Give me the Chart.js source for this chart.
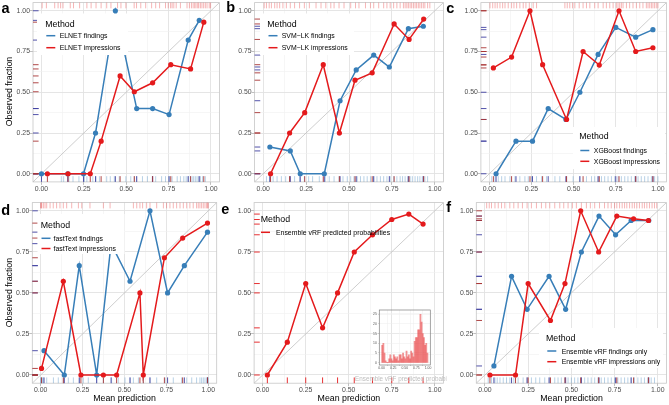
<!DOCTYPE html>
<html><head><meta charset="utf-8">
<script src="https://cdn.jsdelivr.net/npm/chart.js@4.4.1/dist/chart.umd.min.js"></script>
<style>
body{margin:0;background:#fff;}
#wrap{position:relative;width:669px;height:405px;overflow:hidden;background:#fff;}
canvas{position:absolute;}
#ov{position:absolute;left:0;top:0;font-family:"Liberation Sans",Arial,sans-serif;}
</style></head><body>
<div id="wrap">
<canvas id="ca" width="222" height="200" style="left:0px;top:0px"></canvas>
<canvas id="cb" width="224" height="200" style="left:222px;top:0px"></canvas>
<canvas id="cc" width="223" height="200" style="left:446px;top:0px"></canvas>
<canvas id="cd" width="222" height="205" style="left:0px;top:200px"></canvas>
<canvas id="ce" width="224" height="205" style="left:222px;top:200px"></canvas>
<canvas id="cf" width="223" height="205" style="left:446px;top:200px"></canvas>
<canvas id="ci" width="68" height="66" style="left:366px;top:306px"></canvas>
<svg id="ov" width="669" height="405"></svg>
</div>
<script>
// ---------------- DATA ----------------
const gridTicks = [0, 0.125, 0.25, 0.375, 0.5, 0.625, 0.75, 0.875, 1];
const majorTicks = [0, 0.25, 0.5, 0.75, 1];
const tickLabels = ['0.00', '0.25', '0.50', '0.75', '1.00'];
const diag = [-0.05, 1.05];

// a: ELNET
const aFindX = [0.00, 0.155, 0.248, 0.319, 0.436, 0.562, 0.656, 0.753, 0.866, 0.931];
const aFindY = [0.00, 0.00, 0.00, 0.25, 1.00, 0.40, 0.40, 0.363, 0.82, 0.941];
const aImprX = [0.035, 0.157, 0.288, 0.352, 0.464, 0.548, 0.656, 0.763, 0.88, 0.958];
const aImprY = [0.00, 0.00, 0.00, 0.20, 0.60, 0.503, 0.558, 0.669, 0.643, 0.93];
const aRugTop = [0.004,0.029,0.078,0.098,0.113,0.127,0.170,0.189,0.225,0.268,0.293,0.322,0.352,0.385,0.410,0.449,0.469,0.498,0.547,0.561,0.586,0.615,0.650,0.674,0.697,0.732,0.748,0.762,0.771,0.781,0.795,0.820,0.859,0.873,0.885,0.895,0.904,0.912,0.922,0.928,0.938,0.947,0.957,0.967,0.977,0.990,0.998];
const aRugBottom = [0.117,0.131,0.162,0.186,0.221,0.254,0.268,0.303,0.322,0.342,0.385,0.406,0.430,0.459,0.498,0.527,0.547,0.561,0.596,0.625,0.654,0.674,0.709,0.732,0.752,0.771,0.801,0.820,0.840,0.854,0.865,0.879,0.889,0.898,0.908,0.918,0.928,0.938,0.951,0.967];

// b: SVM-LK
const bFindX = [0.039, 0.158, 0.216, 0.356, 0.448, 0.542, 0.644, 0.735, 0.846, 0.933];
const bFindY = [0.164, 0.14, 0.00, 0.00, 0.448, 0.637, 0.728, 0.655, 0.89, 0.905];
const bImprX = [0.043, 0.154, 0.242, 0.35, 0.444, 0.535, 0.635, 0.763, 0.85, 0.935];
const bImprY = [0.00, 0.25, 0.375, 0.669, 0.25, 0.574, 0.619, 0.919, 0.824, 0.949];
const bRugTop = [0.006,0.019,0.035,0.048,0.067,0.081,0.096,0.115,0.135,0.158,0.183,0.212,0.240,0.269,0.308,0.337,0.365,0.394,0.413,0.442,0.471,0.510,0.538,0.558,0.596,0.625,0.644,0.673,0.702,0.721,0.740,0.760,0.779,0.798,0.817,0.827,0.837,0.846,0.856,0.865,0.875,0.885,0.894,0.904,0.913,0.923,0.933,0.942,0.958,0.971];
const bRugBottom = [0.019,0.038,0.058,0.081,0.106,0.131,0.154,0.183,0.212,0.240,0.265,0.288,0.327,0.362,0.385,0.413,0.442,0.465,0.490,0.510,0.529,0.548,0.567,0.587,0.606,0.625,0.644,0.663,0.683,0.702,0.721,0.740,0.760,0.779,0.798,0.812,0.827,0.842,0.856,0.869,0.885,0.900,0.913,0.927,0.942,0.958];

// c: XGBoost
const cFindX = [0.04, 0.158, 0.256, 0.349, 0.454, 0.537, 0.645, 0.75, 0.868, 0.97];
const cFindY = [0.00, 0.20, 0.20, 0.40, 0.333, 0.50, 0.732, 0.898, 0.838, 0.884];
const cImprX = [0.024, 0.132, 0.241, 0.316, 0.458, 0.556, 0.652, 0.769, 0.868, 0.97];
const cImprY = [0.649, 0.716, 1.00, 0.669, 0.333, 0.75, 0.667, 1.00, 0.75, 0.773];
const cRugTop = [0.004,0.020,0.034,0.047,0.063,0.079,0.093,0.112,0.132,0.146,0.162,0.181,0.201,0.217,0.237,0.260,0.280,0.448,0.462,0.477,0.493,0.507,0.533,0.556,0.576,0.596,0.625,0.645,0.675,0.694,0.714,0.734,0.753,0.763,0.773,0.783,0.793,0.813,0.832,0.852,0.872,0.892,0.911,0.931,0.941,0.951,0.961,0.970,0.980,0.990,1.000];
const cRugBottom = [0.014,0.034,0.053,0.073,0.093,0.122,0.152,0.181,0.211,0.231,0.250,0.280,0.310,0.339,0.389,0.418,0.458,0.497,0.536,0.576,0.606,0.625,0.645,0.665,0.684,0.704,0.724,0.744,0.763,0.783,0.803,0.822,0.842,0.862,0.882,0.901,0.921,0.941,0.961,0.980,1.000];

// d: fastText
const dFindX = [0.02, 0.141, 0.23, 0.334, 0.42, 0.533, 0.652, 0.757, 0.857, 0.995];
const dFindY = [0.148, 0.00, 0.666, 0.00, 0.80, 0.571, 1.00, 0.50, 0.666, 0.87];
const dImprX = [0.005, 0.135, 0.24, 0.374, 0.453, 0.592, 0.612, 0.738, 0.847, 0.995];
const dImprY = [0.04, 0.571, 0.00, 0.00, 0.00, 0.50, 0.00, 0.714, 0.834, 0.925];
const dRugTop = [0.000,0.003,0.006,0.016,0.026,0.036,0.056,0.075,0.095,0.115,0.135,0.155,0.185,0.225,0.245,0.294,0.374,0.414,0.553,0.573,0.592,0.608,0.632,0.652,0.692,0.732,0.751,0.771,0.791,0.811,0.831,0.851,0.871,0.890,0.910,0.930,0.940,0.950,0.960,0.970,0.980,0.990,0.995,1.000];
const dRugBottom = [0.000,0.003,0.006,0.010,0.016,0.036,0.076,0.105,0.135,0.165,0.195,0.231,0.254,0.284,0.334,0.374,0.423,0.463,0.503,0.533,0.553,0.583,0.612,0.652,0.692,0.742,0.791,0.841,0.871,0.901,0.930,0.950,0.960,0.970,0.980,0.990,0.995,1.000];

// e: Ensemble vRF
const eProbX = [0.027, 0.143, 0.25, 0.348, 0.435, 0.532, 0.638, 0.75, 0.849, 0.932];
const eProbY = [0.00, 0.20, 0.557, 0.287, 0.50, 0.749, 0.854, 0.947, 0.98, 0.919];
const histBins = [0.0125,0.0375,0.0625,0.0875,0.1125,0.1375,0.1625,0.1875,0.2125,0.2375,0.2625,0.2875,0.3125,0.3375,0.3625,0.3875,0.4125,0.4375,0.4625,0.4875,0.5125,0.5375,0.5625,0.5875,0.6125,0.6375,0.6625,0.6875,0.7125,0.7375,0.7625,0.7875,0.8125,0.8375,0.8625,0.8875,0.9125,0.9375,0.9625,0.9875];
const histCounts = [9,10,5,1,0,0,2,4,2,1,4,3,2,3,1,4,4,2,5,3,2,6,3,4,2,6,5,3,11,13,13,17,17,25,21,15,13,9,10,5];
const histTicks = [0, 5, 10, 15, 20, 25];

// f: Ensemble vRF findings / impressions only
const fFindX = [0.052, 0.154, 0.244, 0.371, 0.467, 0.558, 0.66, 0.756, 0.846, 0.948];
const fFindY = [0.055, 0.601, 0.40, 0.601, 0.40, 0.749, 0.968, 0.854, 0.941, 0.941];
const fImprX = [0.029, 0.177, 0.25, 0.379, 0.463, 0.554, 0.658, 0.763, 0.86, 0.946];
const fImprY = [0.00, 0.00, 0.557, 0.332, 0.557, 1.00, 0.749, 0.968, 0.951, 0.941];
const fRugTop = [0.010,0.025,0.038,0.058,0.077,0.096,0.115,0.144,0.167,0.192,0.217,0.244,0.269,0.298,0.327,0.352,0.375,0.404,0.433,0.456,0.481,0.506,0.529,0.558,0.587,0.610,0.635,0.663,0.692,0.712,0.731,0.750,0.763,0.779,0.794,0.808,0.821,0.837,0.852,0.865,0.879,0.894,0.910,0.923,0.937,0.952,0.967,0.981,0.994];
const fRugBottom = [0.019,0.038,0.058,0.071,0.087,0.106,0.125,0.144,0.167,0.192,0.221,0.244,0.269,0.294,0.317,0.346,0.375,0.404,0.423,0.442,0.462,0.481,0.500,0.519,0.538,0.558,0.577,0.596,0.615,0.635,0.654,0.673,0.692,0.712,0.731,0.750,0.769,0.788,0.808,0.827,0.846,0.865,0.885,0.904,0.923,0.942,0.962,0.981];

const legendTitle = 'Method';
const aNames = ['ELNET findings', 'ELNET impressions'];
const bNames = ['SVM\u2212LK findings', 'SVM\u2212LK impressions'];
const cNames = ['XGBoost findings', 'XGBoost impressions'];
const dNames = ['fastText findings', 'fastText impressions'];
const eNames = ['Ensemble vRF predicted probabilities'];
const fNames = ['Ensemble vRF findings only', 'Ensemble vRF impressions only'];
const yTitle = 'Observed fraction';
const xTitle = 'Mean prediction';
const insetTitle = 'Ensemble vRF predicted probability';

// ---------------- STYLE ----------------
const BLUE = '#377EB8', RED = '#E41A1C';
const RUG_BLUE = 'rgba(55,126,184,0.40)', RUG_RED = 'rgba(228,26,28,0.36)';
const DARK_BLUE = '#3F3FA0', DARK_RED = '#A83434';
const FONT = '"Liberation Sans", Arial, sans-serif';
Chart.defaults.font.family = FONT;

function pts(xs, ys) { return xs.map((x, i) => ({ x: x, y: ys[i] })); }
function zeroPad(s) { s.paddingTop = 0; s.paddingBottom = 0; s.paddingLeft = 0; s.paddingRight = 0; }

const framePlugin = {
  id: 'frame',
  beforeDatasetsDraw(chart, args, o) {
    const a = chart.chartArea, c = chart.ctx;
    c.save(); c.strokeStyle = o.color || '#C6C6C6'; c.lineWidth = o.width || 0.8;
    c.strokeRect(a.left, a.top, a.right - a.left, a.bottom - a.top); c.restore();
  }
};
const rugPlugin = {
  id: 'rug',
  beforeDatasetsDraw(chart, args, o) {
    if (!o || !o.sets) return;
    const a = chart.chartArea, c = chart.ctx, xs = chart.scales.x, ys = chart.scales.y;
    const lenV = (a.bottom - a.top) * 0.032, lenH = (a.right - a.left) * 0.03;
    c.save(); c.lineWidth = 0.9;
    for (const s of o.sets) {
      c.strokeStyle = s.color;
      for (const v of s.values) {
        c.beginPath();
        if (s.side === 'top') { const p = xs.getPixelForValue(v); c.moveTo(p, a.top); c.lineTo(p, a.top + lenV); }
        else if (s.side === 'bottom') { const p = xs.getPixelForValue(v); c.moveTo(p, a.bottom); c.lineTo(p, a.bottom - lenV); }
        else { const p = ys.getPixelForValue(v); c.moveTo(a.left, p); c.lineTo(a.left + lenH, p); }
        c.stroke();
      }
    }
    c.restore();
  }
};

function axis(sizeSetter) {
  const isMajor = v => majorTicks.indexOf(v) >= 0;
  return {
    type: 'linear', min: -0.05, max: 1.05,
    afterBuildTicks: s => { s.ticks = gridTicks.map(v => ({ value: v })); },
    afterFit: s => { sizeSetter(s); zeroPad(s); },
    ticks: { autoSkip: false, maxRotation: 0, minRotation: 0, padding: 0, color: '#4D4D4D',
      font: { size: 6.9, family: FONT },
      callback: v => { const i = majorTicks.indexOf(v); return i >= 0 ? tickLabels[i] : ''; } },
    grid: {
      color: ctx => isMajor(ctx.tick.value) ? '#E2E2E2' : '#F0F0F0',
      lineWidth: ctx => isMajor(ctx.tick.value) ? 0.9 : 0.6,
      drawTicks: true, tickLength: 3,
      tickColor: ctx => isMajor(ctx.tick.value) ? '#B8B8B8' : 'rgba(0,0,0,0)'
    },
    border: { display: false }
  };
}

function lineDs(xs, ys, color, order) {
  return { data: pts(xs, ys), borderColor: color, backgroundColor: color, borderWidth: 1.5,
    pointRadius: 2.6, pointBorderWidth: 0, pointHoverRadius: 2.6, tension: 0, order: order, fill: false };
}

function panel(id, g, series, rugs) {
  const ds = [];
  series.forEach((s, i) => ds.push(lineDs(s.x, s.y, s.color, s.order)));
  ds.push({ data: pts(diag, diag), borderColor: '#B9B9B9', borderWidth: 0.7, pointRadius: 0, order: 9, fill: false });
  new Chart(document.getElementById(id), {
    type: 'line',
    data: { datasets: ds },
    options: {
      responsive: false, animation: false, events: [],
      layout: { padding: { left: 0, top: g.t, right: g.r, bottom: 0 } },
      plugins: { legend: { display: false }, tooltip: { enabled: false },
        frame: {}, rug: { sets: rugs } },
      scales: {
        x: axis(s => { s.height = g.xh; }),
        y: axis(s => { s.width = g.yw; })
      }
    },
    plugins: [framePlugin, rugPlugin]
  });
}

function stdRugs(top, bottom, fx, fy, ix, iy) {
  const r = [];
  if (top) r.push({ side: 'top', color: RUG_RED, values: top });
  if (bottom) r.push({ side: 'bottom', color: RUG_BLUE, values: bottom });
  r.push({ side: 'bottom', color: DARK_BLUE, values: fx });
  r.push({ side: 'bottom', color: DARK_RED, values: ix });
  r.push({ side: 'left', color: DARK_BLUE, values: fy });
  r.push({ side: 'left', color: DARK_RED, values: iy });
  return r;
}

panel('ca', { t: 1.1, r: 1.5, yw: 33, xh: 18.1 },
  [{ x: aImprX, y: aImprY, color: RED, order: 1 }, { x: aFindX, y: aFindY, color: BLUE, order: 2 }],
  stdRugs(aRugTop, aRugBottom, aFindX, aFindY, aImprX, aImprY));
panel('cb', { t: 1.1, r: 0.6, yw: 32.6, xh: 18.1 },
  [{ x: bImprX, y: bImprY, color: RED, order: 1 }, { x: bFindX, y: bFindY, color: BLUE, order: 2 }],
  stdRugs(bRugTop, bRugBottom, bFindX, bFindY, bImprX, bImprY));
panel('cc', { t: 1.1, r: 2.2, yw: 34.9, xh: 18.1 },
  [{ x: cImprX, y: cImprY, color: RED, order: 1 }, { x: cFindX, y: cFindY, color: BLUE, order: 2 }],
  stdRugs(cRugTop, cRugBottom, cFindX, cFindY, cImprX, cImprY));
panel('cd', { t: 2.1, r: 5.3, yw: 32.3, xh: 21.8 },
  [{ x: dImprX, y: dImprY, color: RED, order: 1 }, { x: dFindX, y: dFindY, color: BLUE, order: 2 }],
  stdRugs(dRugTop, dRugBottom, dFindX, dFindY, dImprX, dImprY));
panel('ce', { t: 2.1, r: 2.4, yw: 32.1, xh: 21.8 },
  [{ x: eProbX, y: eProbY, color: RED, order: 1 }],
  [{ side: 'bottom', color: RED, values: eProbX }, { side: 'left', color: RED, values: eProbY }]);
panel('cf', { t: 2.1, r: 2, yw: 30.3, xh: 21.8 },
  [{ x: fImprX, y: fImprY, color: RED, order: 1 }, { x: fFindX, y: fFindY, color: BLUE, order: 2 }],
  stdRugs(fRugTop, fRugBottom, fFindX, fFindY, fImprX, fImprY));

// inset histogram
new Chart(document.getElementById('ci'), {
  type: 'bar',
  data: { datasets: [{ data: pts(histBins, histCounts), backgroundColor: 'rgba(232,60,62,0.55)',
    borderWidth: 0, barPercentage: 1, categoryPercentage: 1 }] },
  options: {
    responsive: false, animation: false, events: [],
    layout: { padding: { left: 0, top: 4, right: 3.7, bottom: 0 } },
    plugins: { legend: { display: false }, tooltip: { enabled: false }, frame: { color: '#7E7E7E', width: 0.7 } },
    scales: {
      x: { type: 'linear', min: -0.05, max: 1.05, offset: false,
        afterBuildTicks: s => { s.ticks = majorTicks.map(v => ({ value: v })); },
        afterFit: s => { s.height = 7; zeroPad(s); },
        ticks: { autoSkip: false, maxRotation: 0, padding: 0.3, color: '#555', font: { size: 3.4, family: FONT },
          callback: v => tickLabels[majorTicks.indexOf(v)] },
        grid: { color: '#EDEDED', lineWidth: 0.5, tickLength: 0.8, tickColor: '#999' }, border: { display: false } },
      y: { type: 'linear', min: -1.2, max: 27.2,
        afterBuildTicks: s => { s.ticks = histTicks.map(v => ({ value: v })); },
        afterFit: s => { s.width = 13.3; zeroPad(s); },
        ticks: { autoSkip: false, padding: 1.5, color: '#555', font: { size: 3.4, family: FONT } },
        grid: { color: '#EDEDED', lineWidth: 0.5, tickLength: 1, tickColor: '#999' }, border: { display: false } }
    }
  },
  plugins: [framePlugin]
});

// ---------------- SVG TEXT OVERLAY ----------------
const NS = 'http://www.w3.org/2000/svg';
const svg = document.getElementById('ov');
function el(tag, attrs, parent) {
  const e = document.createElementNS(NS, tag);
  for (const k in attrs) e.setAttribute(k, attrs[k]);
  (parent || svg).appendChild(e); return e;
}
function txt(x, y, s, attrs) {
  const t = el('text', Object.assign({ x: x, y: y, 'dominant-baseline': 'central', fill: '#000' }, attrs || {}));
  t.textContent = s; return t;
}
// panel letters
[['a', 1.5, 13.3], ['b', 226.3, 11.7], ['c', 446.3, 13.3], ['d', 1.3, 215], ['e', 221.3, 214.3], ['f', 446.3, 211.7]]
  .forEach(([s, x, y]) => { const t = el('text', { x: x, y: y, 'font-size': 14.5, 'font-weight': 'bold', fill: '#000' }); t.textContent = s; });
// axis titles
[91.5, 292.6].forEach(cy => txt(0, 0, yTitle, { transform: `translate(9,${cy}) rotate(-90)`, 'text-anchor': 'middle', 'font-size': 8.8 }));
[124.5, 348.9, 571.6].forEach(cx => txt(cx, 398, xTitle, { 'text-anchor': 'middle', 'font-size': 8.8 }));

// legends
function legend(L) {
  if (L.box) el('rect', { x: L.box[0], y: L.box[1], width: L.box[2], height: L.box[3], fill: '#fff' });
  txt(L.tx, L.ty, legendTitle, { 'font-size': 8.8 });
  L.names.forEach((n, i) => {
    const y = L.iy[i];
    el('line', { x1: L.kx, x2: L.kx + 9, y1: y, y2: y, stroke: L.colors[i], 'stroke-width': 1.5 });
    txt(L.lx, y, n, { 'font-size': 6.9 });
  });
}
legend({ box: [37, 13.5, 91, 41.5], tx: 45.3, ty: 24, kx: 46.3, lx: 59.7, iy: [35.7, 47.7], names: aNames, colors: [BLUE, RED] });
legend({ box: [260, 13.5, 94, 41.5], tx: 267.3, ty: 23.5, kx: 268.5, lx: 281.7, iy: [35.7, 47.7], names: bNames, colors: [BLUE, RED] });
legend({ box: [573, 127, 92, 42], tx: 579.3, ty: 136.3, kx: 580.3, lx: 593.8, iy: [150.5, 161.3], names: cNames, colors: [BLUE, RED] });
legend({ box: [37.5, 214, 87, 40], tx: 40.7, ty: 225, kx: 41.5, lx: 53.5, iy: [238.3, 248.5], names: dNames, colors: [BLUE, RED] });
legend({ box: null, tx: 260.7, ty: 219, kx: 261, lx: 276, iy: [232.3], names: eNames, colors: [RED] });
legend({ box: [539, 328, 124, 40], tx: 546, ty: 337.7, kx: 547.3, lx: 561.7, iy: [351, 361.7], names: fNames, colors: [BLUE, RED] });

// inset x title (clipped as in the reference)
const defs = el('defs', {});
const cp = el('clipPath', { id: 'insclip' }, defs);
el('rect', { x: 300, y: 370, width: 146.7, height: 15 }, cp);
txt(404.8, 378.3, insetTitle, { 'text-anchor': 'middle', 'font-size': 6.3, fill: '#BDBDBD', 'clip-path': 'url(#insclip)' });
</script>
</body></html>
